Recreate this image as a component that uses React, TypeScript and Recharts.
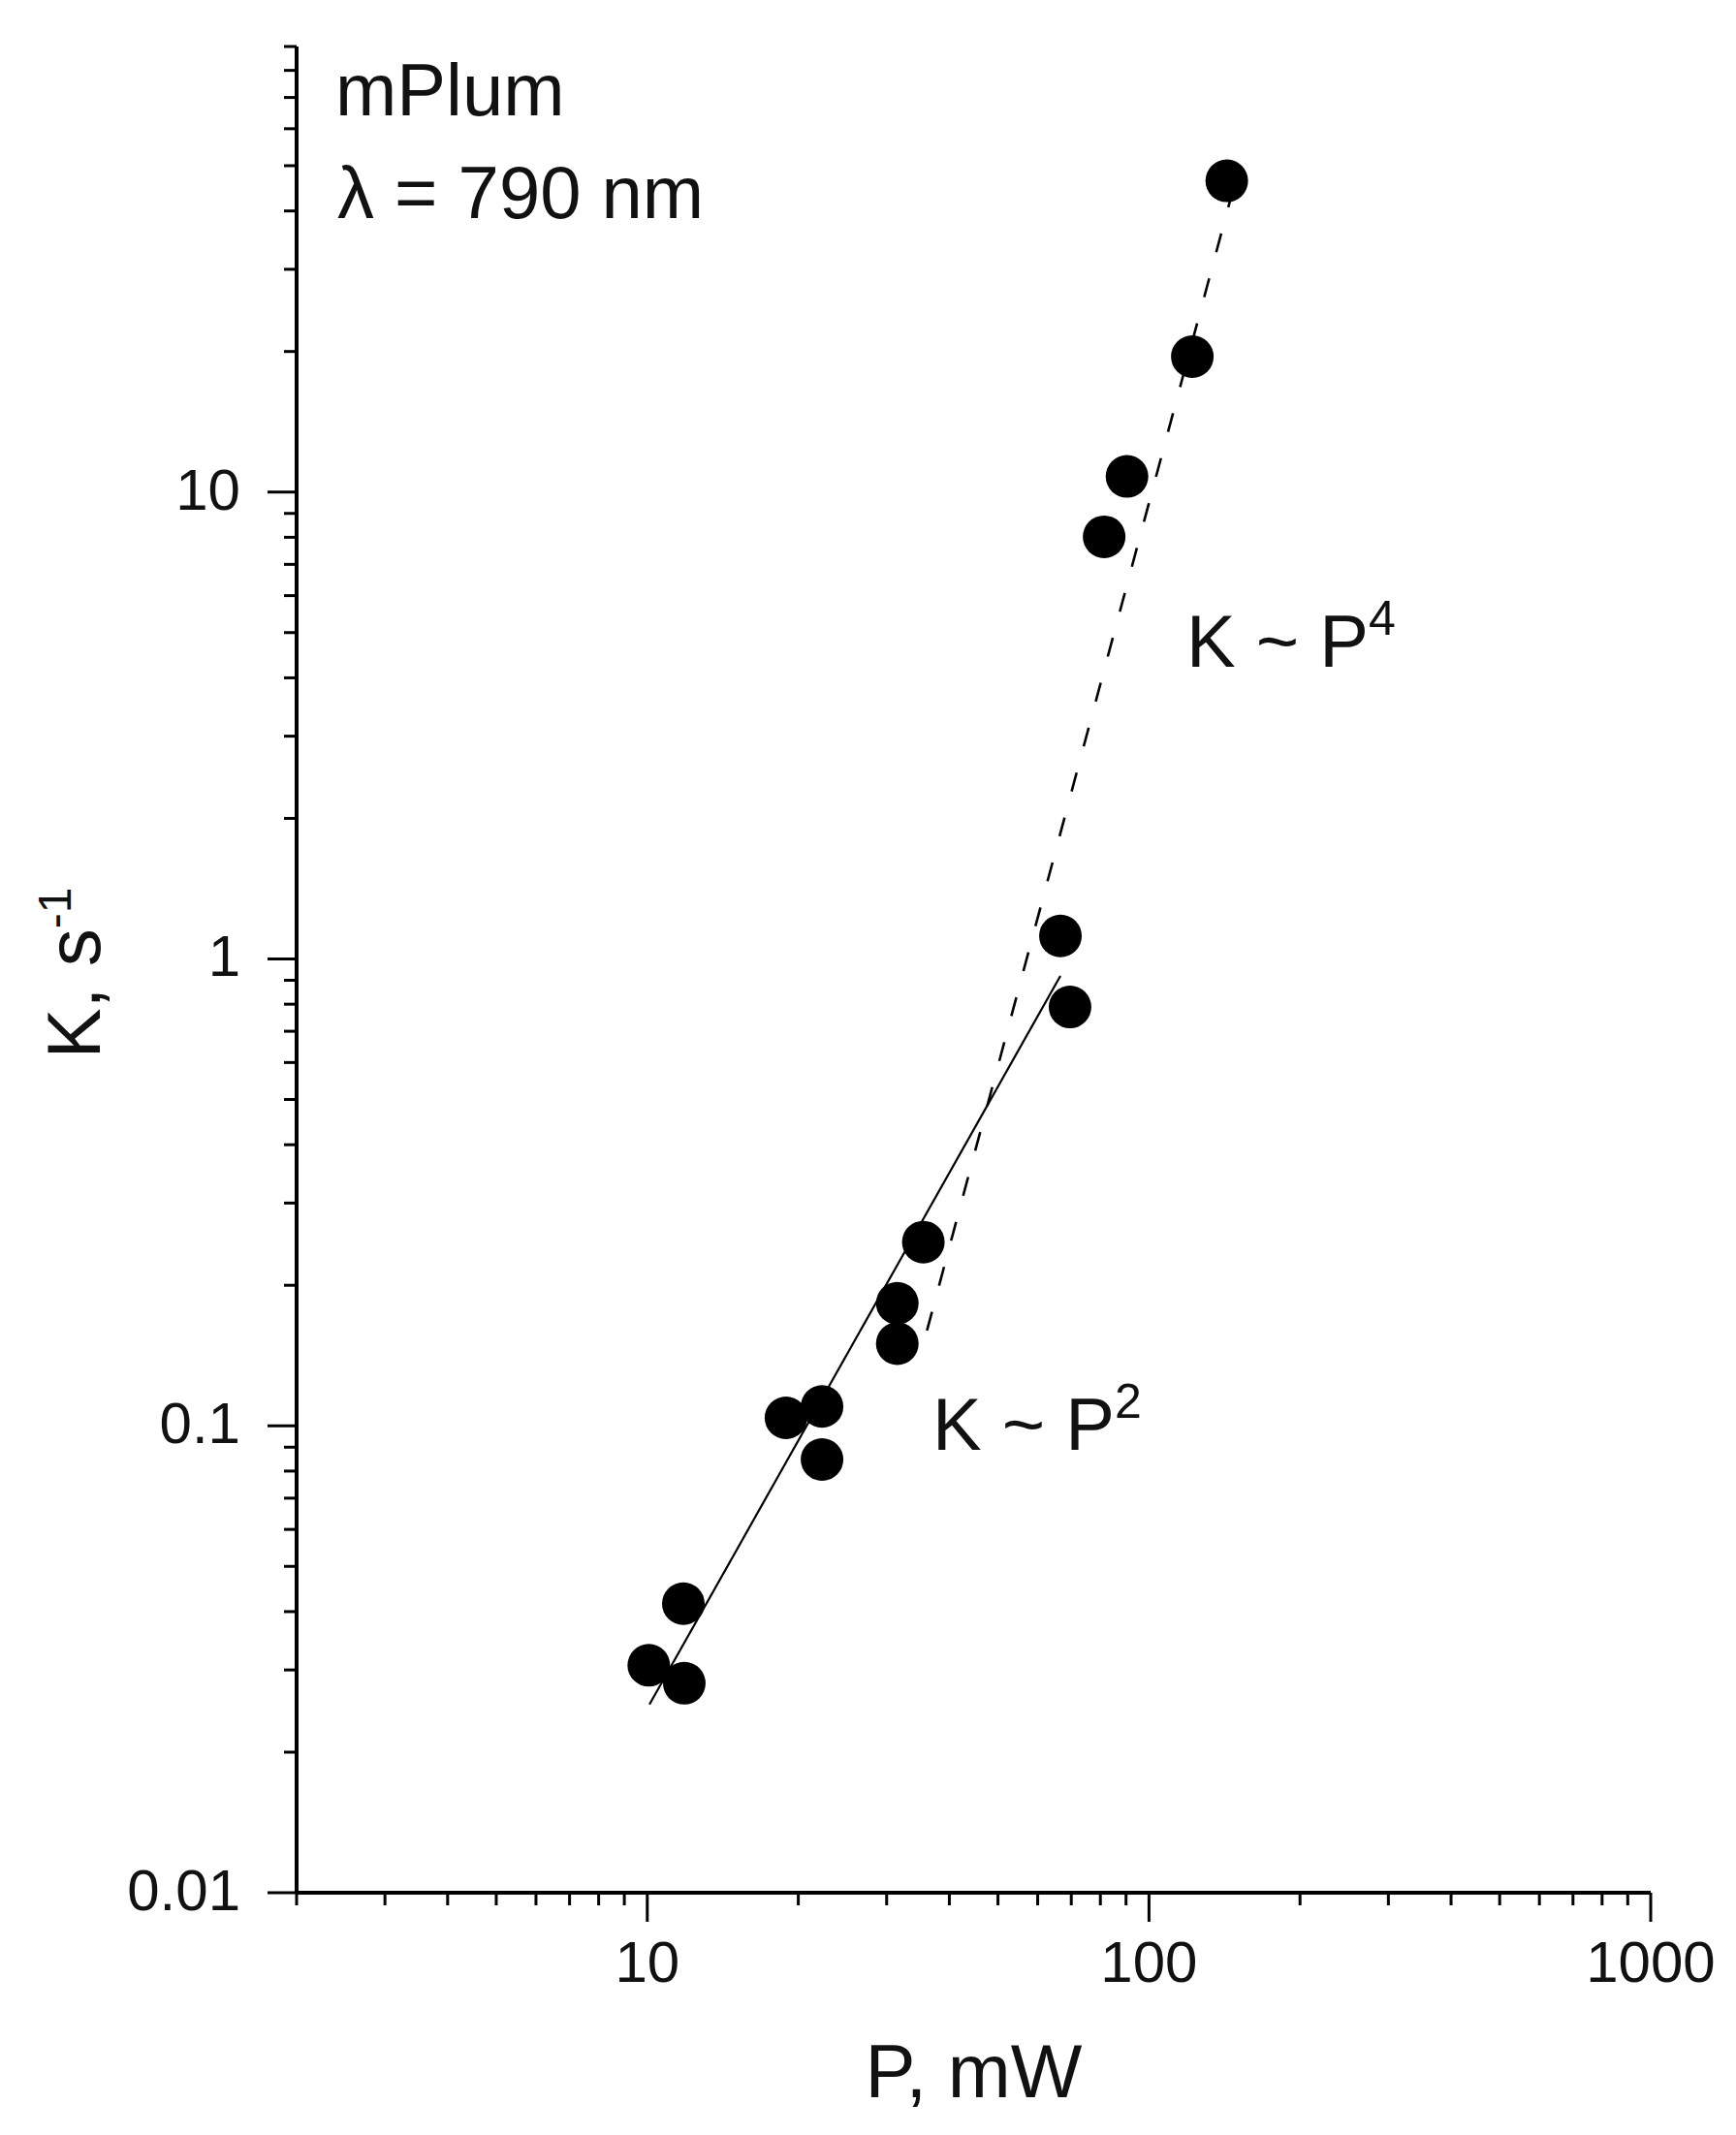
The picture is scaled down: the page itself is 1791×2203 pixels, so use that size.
import { ScatterChart, Scatter, XAxis, YAxis } from "recharts";

// measured points: excitation power (mW) vs bleaching rate K (1/s)
const powerMw = [142.9, 122.0, 90.4, 81.4, 66.6, 69.6, 35.5, 31.5, 31.5, 22.3, 18.9, 22.3, 11.8, 10.07, 11.85];
const rateK = [46.4, 19.5, 10.8, 8.02, 1.12, 0.789, 0.2475, 0.183, 0.15, 0.11, 0.104, 0.0847, 0.0416, 0.0307, 0.0281];

// fit lines, end points
const fitP2Power = [10.1, 66.6];
const fitP2Rate = [0.0253, 0.92];
const fitP4Power = [36.1, 145];
const fitP4Rate = [0.16, 42];

const xTicks = [2, 3, 4, 5, 6, 7, 8, 9, 10, 20, 30, 40, 50, 60, 70, 80, 90, 100, 200, 300, 400, 500, 600, 700, 800, 900, 1000];
const xMajor = [10, 100, 1000];
const yTicks = [
  0.01, 0.02, 0.03, 0.04, 0.05, 0.06, 0.07, 0.08, 0.09,
  0.1, 0.2, 0.3, 0.4, 0.5, 0.6, 0.7, 0.8, 0.9,
  1, 2, 3, 4, 5, 6, 7, 8, 9,
  10, 20, 30, 40, 50, 60, 70, 80, 90,
];
const yMajor = [0.01, 0.1, 1, 10];

const font = '"Liberation Sans", Arial, Helvetica, sans-serif';

const points = powerMw.map((p, i) => ({ p, k: rateK[i] }));
const fitP2 = fitP2Power.map((p, i) => ({ p, k: fitP2Rate[i] }));
const fitP4 = fitP4Power.map((p, i) => ({ p, k: fitP4Rate[i] }));

const XTick = (props: any) => {
  const { x, y, payload } = props;
  const major = xMajor.includes(payload.value);
  return (
    <g>
      <line x1={x} y1={y} x2={x} y2={y + (major ? 30 : 13)} stroke="#000" strokeWidth={3} />
      {major && (
        <text x={x} y={y + 92} textAnchor="middle" fontSize={60} fontFamily={font} fill="#111">
          {payload.value}
        </text>
      )}
    </g>
  );
};

const YTick = (props: any) => {
  const { x, y, payload } = props;
  const major = yMajor.includes(payload.value);
  return (
    <g>
      <line x1={x - (major ? 30 : 13)} y1={y} x2={x} y2={y} stroke="#000" strokeWidth={3} />
      {major && (
        <text x={x - 58} y={y + 18} textAnchor="end" fontSize={60} fontFamily={font} fill="#111">
          {payload.value}
        </text>
      )}
    </g>
  );
};

const XLabel = (props: any) => {
  const { x, y, width } = props.viewBox;
  return (
    <text x={x + width / 2} y={y + 211} textAnchor="middle" fontSize={78} fontFamily={font} fill="#111">
      P, mW
    </text>
  );
};

const YLabel = () => (
  <text x={95} y={996} transform="rotate(-90, 95, 996)" textAnchor="middle" fontSize={78} fontFamily={font} fill="#111">
    K, s
    <tspan fontSize={48} dy={-30}>-1</tspan>
  </text>
);

const Dot = (props: any) => <circle cx={props.cx} cy={props.cy} r={22} fill="#000" />;
const NoDot = () => <g />;

export default function App() {
  return (
    <div style={{ position: "relative", width: 1775, height: 2187, background: "#fff" }}>
      <ScatterChart width={1775} height={2187} margin={{ top: 40, right: 80, bottom: 2, left: 0 }}>
        <XAxis
          type="number"
          dataKey="p"
          scale="log"
          domain={[2, 1000]}
          allowDataOverflow
          ticks={xTicks}
          interval={0}
          tickSize={0}
          tickMargin={0}
          tickLine={false}
          tick={<XTick />}
          axisLine={{ stroke: "#000", strokeWidth: 4 }}
          height={240}
          label={{ content: <XLabel /> }}
        />
        <YAxis
          type="number"
          dataKey="k"
          scale="log"
          domain={[0.01, 90]}
          allowDataOverflow
          ticks={yTicks}
          interval={0}
          tickSize={0}
          tickMargin={0}
          tickLine={false}
          tick={<YTick />}
          axisLine={{ stroke: "#000", strokeWidth: 4 }}
          width={298}
          label={{ content: <YLabel /> }}
        />
        <Scatter
          data={fitP2}
          shape={<NoDot />}
          line={{ stroke: "#000", strokeWidth: 2.2 }}
          lineType="joint"
          isAnimationActive={false}
        />
        <Scatter
          data={fitP4}
          shape={<NoDot />}
          line={{ stroke: "#000", strokeWidth: 2.6, strokeDasharray: "20 28" }}
          lineType="joint"
          isAnimationActive={false}
        />
        <Scatter data={points} shape={<Dot />} isAnimationActive={false} />
      </ScatterChart>
      <svg
        width={1775}
        height={2187}
        style={{ position: "absolute", left: 0, top: 0, pointerEvents: "none" }}
        fontFamily={font}
        fill="#111"
      >
        <text x={338} y={111} fontSize={76}>mPlum</text>
        <text x={340} y={217} fontSize={76}>λ = 790 nm</text>
        <text x={1216} y={680} fontSize={76}>
          K ~ P<tspan fontSize={50} dy={-33}>4</tspan>
        </text>
        <text x={954} y={1488} fontSize={76}>
          K ~ P<tspan fontSize={50} dy={-33}>2</tspan>
        </text>
      </svg>
    </div>
  );
}
